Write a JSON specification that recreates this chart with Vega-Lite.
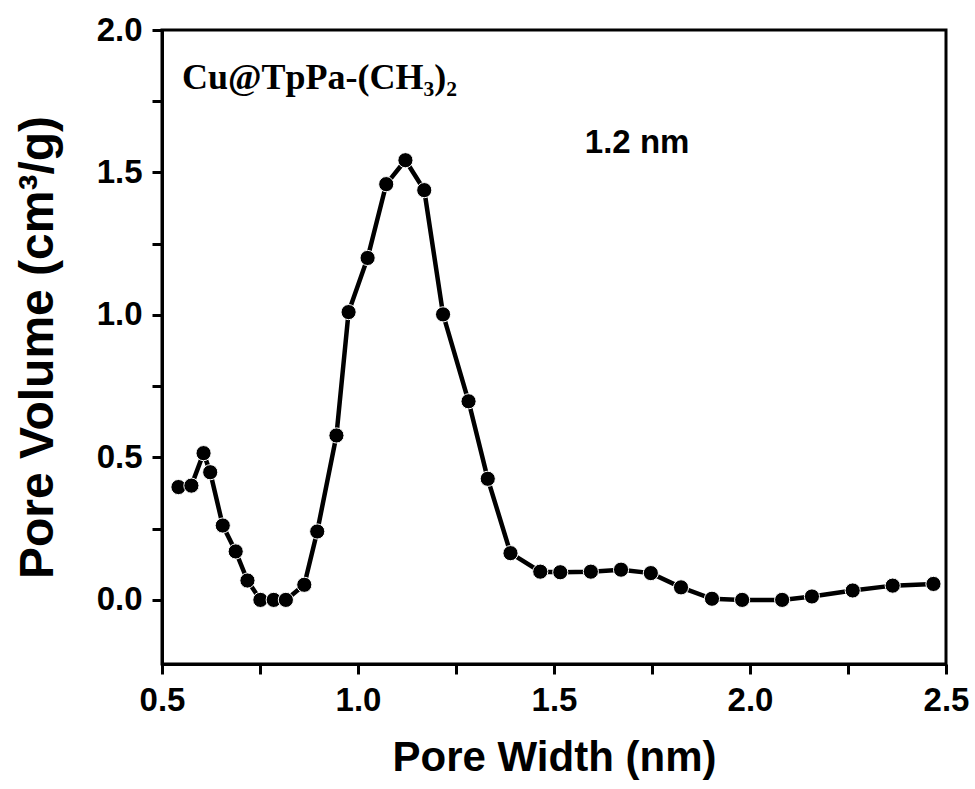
{
  "$schema": "https://vega.github.io/schema/vega-lite/v6.json",
  "width": 784,
  "height": 634,
  "autosize": "none",
  "padding": {"left": 162, "top": 30, "right": 29, "bottom": 125},
  "background": "white",
  "config": {
    "view": {"stroke": "black", "strokeWidth": 3},
    "font": "Liberation Sans"
  },
  "datasets": {
    "pore": [
      {"w": 0.542, "v": 0.396},
      {"w": 0.575, "v": 0.401},
      {"w": 0.606, "v": 0.515},
      {"w": 0.623, "v": 0.448},
      {"w": 0.655, "v": 0.261},
      {"w": 0.688, "v": 0.170},
      {"w": 0.718, "v": 0.068},
      {"w": 0.751, "v": 0.0},
      {"w": 0.785, "v": 0.0},
      {"w": 0.816, "v": 0.0},
      {"w": 0.863, "v": 0.053},
      {"w": 0.896, "v": 0.240},
      {"w": 0.945, "v": 0.577},
      {"w": 0.976, "v": 1.010},
      {"w": 1.0245, "v": 1.200},
      {"w": 1.072, "v": 1.459},
      {"w": 1.121, "v": 1.543},
      {"w": 1.169, "v": 1.438},
      {"w": 1.217, "v": 1.002},
      {"w": 1.282, "v": 0.697},
      {"w": 1.331, "v": 0.425},
      {"w": 1.389, "v": 0.164},
      {"w": 1.465, "v": 0.099},
      {"w": 1.516, "v": 0.097},
      {"w": 1.594, "v": 0.099},
      {"w": 1.671, "v": 0.106},
      {"w": 1.747, "v": 0.094},
      {"w": 1.824, "v": 0.044},
      {"w": 1.903, "v": 0.004},
      {"w": 1.980, "v": 0.0},
      {"w": 2.082, "v": 0.0},
      {"w": 2.158, "v": 0.012},
      {"w": 2.262, "v": 0.033},
      {"w": 2.364, "v": 0.050},
      {"w": 2.468, "v": 0.056}
    ],
    "notes": [
      {"w": 0.551, "v": 1.792, "label": "Cu@TpPa-(CH₃)₂", "kind": "sample"},
      {"w": 1.712, "v": 1.568, "label": "1.2 nm", "kind": "peak"}
    ]
  },
  "layer": [
    {
      "data": {"name": "pore"},
      "mark": {"type": "line", "color": "black", "strokeWidth": 4.5},
      "encoding": {
        "x": {
          "field": "w", "type": "quantitative",
          "scale": {"domain": [0.5, 2.5], "nice": false, "zero": false},
          "axis": {
            "title": "Pore Width (nm)",
            "values": [0.5, 0.75, 1.0, 1.25, 1.5, 1.75, 2.0, 2.25, 2.5],
            "labelExpr": "datum.value % 0.5 === 0 ? format(datum.value, '.1f') : ''",
            "labelOverlap": false,
            "labelFlush": false,
            "labelFont": "Liberation Sans", "labelFontWeight": "bold", "labelFontSize": 33, "labelColor": "black",
            "labelPadding": 10,
            "titleFont": "Liberation Sans", "titleFontWeight": "bold", "titleFontSize": 42, "titleColor": "black",
            "titlePadding": 20,
            "domainColor": "black", "domainWidth": 3,
            "tickColor": "black", "tickWidth": 3, "tickSize": 10,
            "grid": false,
            "encode": {"ticks": {"update": {"y2": {"signal": "(datum.value % 0.5 === 0) ? 11 : 6"}}}}
          }
        },
        "y": {
          "field": "v", "type": "quantitative",
          "scale": {"domain": [-0.225, 2.0], "nice": false, "zero": false},
          "axis": {
            "title": "Pore Volume (cm³/g)",
            "values": [0, 0.25, 0.5, 0.75, 1.0, 1.25, 1.5, 1.75, 2.0],
            "labelExpr": "datum.value % 0.5 === 0 ? format(datum.value, '.1f') : ''",
            "labelOverlap": false,
            "labelFlush": false,
            "labelFont": "Liberation Sans", "labelFontWeight": "bold", "labelFontSize": 33, "labelColor": "black",
            "labelPadding": 10,
            "titleFont": "Liberation Sans", "titleFontWeight": "bold", "titleFontSize": 48, "titleColor": "black",
            "titlePadding": 34,
            "domainColor": "black", "domainWidth": 3,
            "tickColor": "black", "tickWidth": 3, "tickSize": 10,
            "grid": false,
            "encode": {"ticks": {"update": {"x2": {"signal": "(datum.value % 0.5 === 0) ? -11 : -6"}}}}
          }
        }
      }
    },
    {
      "data": {"name": "pore"},
      "mark": {"type": "point", "shape": "circle", "filled": true, "color": "black", "size": 230, "stroke": "white", "strokeWidth": 1, "opacity": 1},
      "encoding": {
        "x": {"field": "w", "type": "quantitative"},
        "y": {"field": "v", "type": "quantitative"}
      }
    },
    {
      "data": {"name": "notes"},
      "transform": [{"filter": "datum.kind === 'sample'"}],
      "mark": {"type": "text", "font": "Liberation Serif", "fontWeight": "bold", "fontSize": 36, "align": "left", "baseline": "alphabetic", "color": "black"},
      "encoding": {
        "x": {"field": "w", "type": "quantitative"},
        "y": {"field": "v", "type": "quantitative"},
        "text": {"field": "label"}
      }
    },
    {
      "data": {"name": "notes"},
      "transform": [{"filter": "datum.kind === 'peak'"}],
      "mark": {"type": "text", "font": "Liberation Sans", "fontWeight": "bold", "fontSize": 33, "align": "center", "baseline": "alphabetic", "color": "black"},
      "encoding": {
        "x": {"field": "w", "type": "quantitative"},
        "y": {"field": "v", "type": "quantitative"},
        "text": {"field": "label"}
      }
    }
  ]
}
